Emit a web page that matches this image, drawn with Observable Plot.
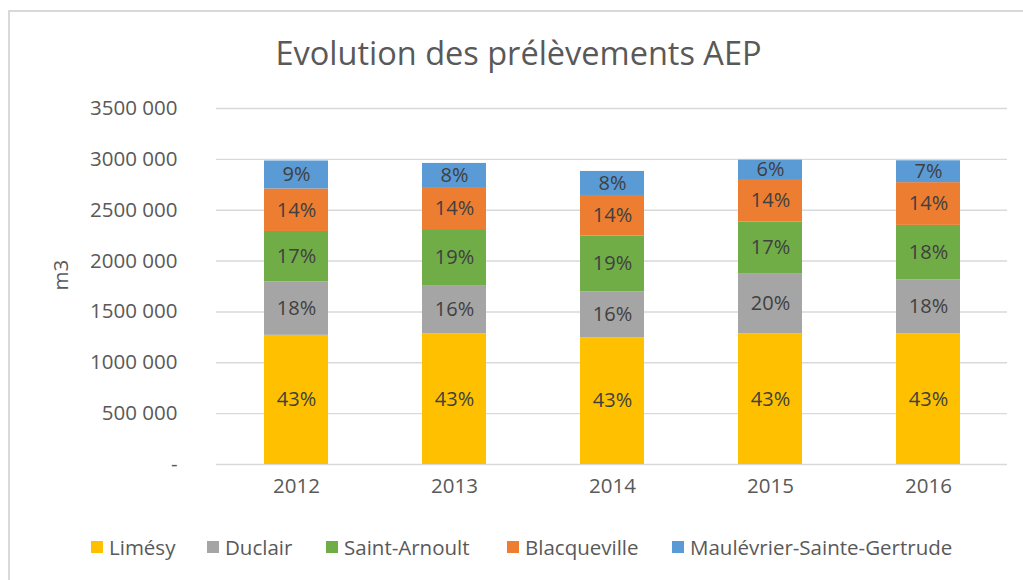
<!DOCTYPE html>
<html>
<head>
<meta charset="utf-8">
<script src="https://cdn.jsdelivr.net/npm/d3@7"></script>
<script src="https://cdn.jsdelivr.net/npm/@observablehq/plot@0.6"></script>
<style>
  html, body { margin: 0; padding: 0; background: #fff; }
  body { width: 1023px; height: 580px; overflow: hidden; position: relative; font-family: "Open Sans", sans-serif; }
  #frame { position: absolute; left: 8px; top: 10px; width: 1100px; height: 700px; border-left: 2px solid #d9d9d9; border-top: 2px solid #d9d9d9; box-sizing: border-box; }
  #title { position: absolute; left: 0; top: 9px; width: 1023px; height: 88px; text-align: center; font-size: 32.5px; color: #595959; line-height: 88px; padding-left: 14px; box-sizing: border-box; }
  #chart { position: absolute; left: 0; top: 88px; }
  #legend { position: absolute; left: 0; top: 532px; width: 1023px; height: 30px; font-size: 20.5px; color: #595959; white-space: nowrap; }
  .item { position: absolute; top: 0; display: flex; align-items: center; height: 30px; }
  .sw { width: 12px; height: 12px; margin-right: 6px; display: inline-block; }
</style>
</head>
<body>
<div id="frame"></div>
<div id="title">Evolution des prélèvements AEP</div>
<div id="chart"></div>
<div id="legend"></div>
<script>
const years = ["2012", "2013", "2014", "2015", "2016"];
const sites = ["Limésy", "Duclair", "Saint-Arnoult", "Blacqueville", "Maulévrier-Sainte-Gertrude"];
const colors = ["#FFC000", "#A5A5A5", "#70AD47", "#ED7D31", "#5B9BD5"];
const limesy       = [1270000, 1286000, 1247000, 1286000, 1286000];
const duclair      = [524000, 473000, 449000, 591000, 530000];
const saintArnoult = [497000, 551000, 551000, 508000, 535000];
const blacqueville = [418000, 413000, 398000, 417000, 420000];
const maulevrier   = [275000, 237000, 236000, 190000, 215000];
const yTicks = [0, 500000, 1000000, 1500000, 2000000, 2500000, 3000000, 3500000];
const yTickLabels = ["-", "500 000", "1000 000", "1500 000", "2000 000", "2500 000", "3000 000", "3500 000"];
const yLabel = "m3";
const legendLeft = [91, 207, 326, 507, 672];

const series = [limesy, duclair, saintArnoult, blacqueville, maulevrier];
const totals = years.map((_, i) => d3.sum(series, s => s[i]));
const data = [];
sites.forEach((site, si) => {
  years.forEach((year, yi) => {
    const v = series[si][yi];
    data.push({year, site, value: v, pct: Math.round(100 * v / totals[yi]) + "%"});
  });
});

const chart = Plot.plot({
  width: 1023,
  height: 432,
  marginTop: 20,
  marginBottom: 56,
  marginLeft: 216,
  marginRight: 16,
  style: {fontFamily: "Open Sans, sans-serif", fontSize: "20px", color: "#595959", background: "transparent"},
  x: {domain: years, paddingInner: 0.595, paddingOuter: 0.2975, label: null},
  y: {domain: [0, 3500000], label: null},
  color: {domain: sites, range: colors},
  marks: [
    Plot.gridY(yTicks, {stroke: "#d9d9d9", strokeOpacity: 1, strokeWidth: 1.4}),
    Plot.barY(data, {x: "year", y: "value", z: "site", fill: "site", order: sites}),
    Plot.text(data, Plot.stackY({x: "year", y: "value", z: "site", order: sites, text: "pct", fill: "#404040", fontSize: 20})),
    Plot.axisY({ticks: yTicks, tickFormat: (d) => yTickLabels[yTicks.indexOf(d)], tickSize: 0, tickPadding: 39, label: null, fill: "#595959", fontSize: 20.5}),
    Plot.axisX({tickSize: 0, tickPadding: 14, label: null, fill: "#595959", fontSize: 20.5}),
    Plot.text([yLabel], {frameAnchor: "left", rotate: -90, dx: -155, dy: 4, fill: "#595959", fontSize: 20.5})
  ]
});
document.getElementById("chart").appendChild(chart);

const legend = document.getElementById("legend");
sites.forEach((s, i) => {
  const item = document.createElement("div");
  item.className = "item";
  item.style.left = legendLeft[i] + "px";
  const sw = document.createElement("span");
  sw.className = "sw";
  sw.style.background = colors[i];
  const t = document.createElement("span");
  t.textContent = s;
  item.appendChild(sw);
  item.appendChild(t);
  legend.appendChild(item);
});
</script>
</body>
</html>
